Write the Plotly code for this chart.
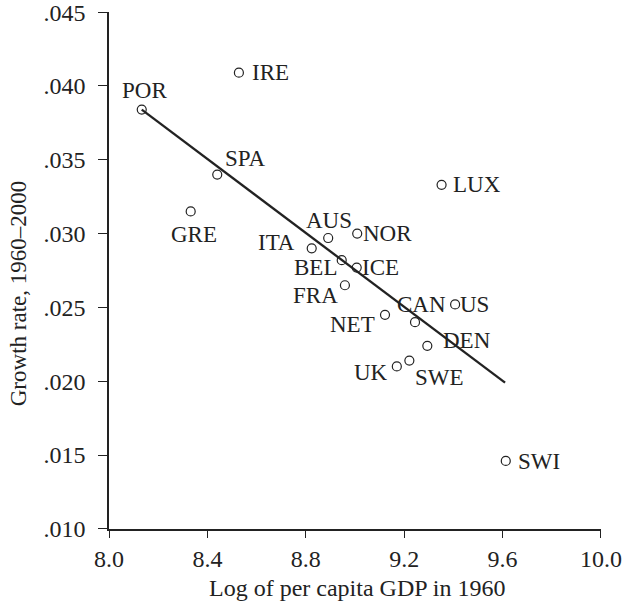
import plotly.graph_objects as go

# ---- data ----
countries = ["POR", "IRE", "SPA", "GRE", "ITA", "AUS", "NOR", "BEL", "ICE",
             "FRA", "NET", "CAN", "US", "DEN", "UK", "SWE", "LUX", "SWI"]
log_gdp_1960 = [8.133, 8.528, 8.440, 8.332, 8.824, 8.891, 9.009, 8.946, 9.007,
                8.959, 9.122, 9.244, 9.407, 9.294, 9.170, 9.221, 9.352, 9.613]
growth_rate = [0.0384, 0.0409, 0.0340, 0.0315, 0.0290, 0.0297, 0.0300, 0.0282, 0.0277,
               0.0265, 0.0245, 0.0240, 0.0252, 0.0224, 0.0210, 0.0214, 0.0333, 0.0146]

fit_x = [8.133, 9.610]
fit_y = [0.0384, 0.0199]

x_ticks = [8.0, 8.4, 8.8, 9.2, 9.6, 10.0]
x_tick_text = ["8.0", "8.4", "8.8", "9.2", "9.6", "10.0"]
y_ticks = [0.010, 0.015, 0.020, 0.025, 0.030, 0.035, 0.040, 0.045]
y_tick_text = [".010", ".015", ".020", ".025", ".030", ".035", ".040", ".045"]

# ---- label placement (style only): anchor, x offset px, y offset px (up) ----
label_style = {
    "POR": ("center", 3, 19), "IRE": ("left", 11, 0), "SPA": ("left", 6, 16),
    "GRE": ("center", 3, -23), "ITA": ("right", -15, 6), "AUS": ("center", 1, 18),
    "NOR": ("left", 4, 0), "BEL": ("right", -3, -7), "ICE": ("left", 3, 0),
    "FRA": ("right", -5, -10), "NET": ("right", -8, -10), "CAN": ("center", 6, 18),
    "US": ("left", 3, 0), "DEN": ("left", 14, 5), "UK": ("right", -7, -6),
    "SWE": ("left", 4, -17), "LUX": ("left", 9, 0), "SWI": ("left", 10, -1),
}

FONT = "Liberation Serif, Times New Roman, serif"
INK = "#222222"

fig = go.Figure()
fig.add_trace(go.Scatter(x=fit_x, y=fit_y, mode="lines",
                         line=dict(color=INK, width=2.3), hoverinfo="skip"))
fig.add_trace(go.Scatter(x=log_gdp_1960, y=growth_rate, mode="markers",
                         marker=dict(symbol="circle-open", size=9,
                                     color=INK, line=dict(width=1.2, color=INK)),
                         text=countries))

for name, xv, yv in zip(countries, log_gdp_1960, growth_rate):
    anchor, dx, dy = label_style[name]
    fig.add_annotation(x=xv, y=yv, xref="x", yref="y", text=name, showarrow=False,
                       xanchor=anchor, yanchor="middle", xshift=dx, yshift=dy,
                       font=dict(family=FONT, size=23, color=INK))

# axis titles
fig.add_annotation(x=0.505, y=0, xref="paper", yref="paper", yshift=-59,
                   text="Log of per capita GDP in 1960", showarrow=False,
                   xanchor="center", yanchor="middle",
                   font=dict(family=FONT, size=24, color=INK))
fig.add_annotation(x=0, y=0.456, xref="paper", yref="paper", xshift=-91,
                   text="Growth rate, 1960–2000", showarrow=False, textangle=-90,
                   xanchor="center", yanchor="middle",
                   font=dict(family=FONT, size=23, color=INK))

fig.update_layout(
    width=625, height=605,
    margin=dict(l=109, r=24, t=12, b=76, autoexpand=False),
    paper_bgcolor="white", plot_bgcolor="white",
    showlegend=False,
    font=dict(family=FONT, size=23, color=INK),
)
fig.update_xaxes(range=[7.9999, 10.0001], tickvals=x_ticks, ticktext=x_tick_text,
                 showgrid=False, zeroline=False, showline=True, linecolor=INK,
                 linewidth=1.6, ticks="outside", ticklen=7, tickwidth=1.3,
                 tickcolor=INK, ticklabelstandoff=0, automargin=False,
                 ticklabeloverflow="allow",
                 tickfont=dict(family=FONT, size=24, color=INK))
fig.update_yaxes(range=[0.00999, 0.04501], tickvals=y_ticks, ticktext=y_tick_text,
                 showgrid=False, zeroline=False, showline=True, linecolor=INK,
                 linewidth=1.6, ticks="outside", ticklen=9, tickwidth=1.3,
                 tickcolor=INK, ticklabelstandoff=8, automargin=False,
                 ticklabeloverflow="allow",
                 tickfont=dict(family=FONT, size=24, color=INK))

fig.write_html("out.html", config={"displayModeBar": False},
               post_script="document.body.style.margin='0';")
